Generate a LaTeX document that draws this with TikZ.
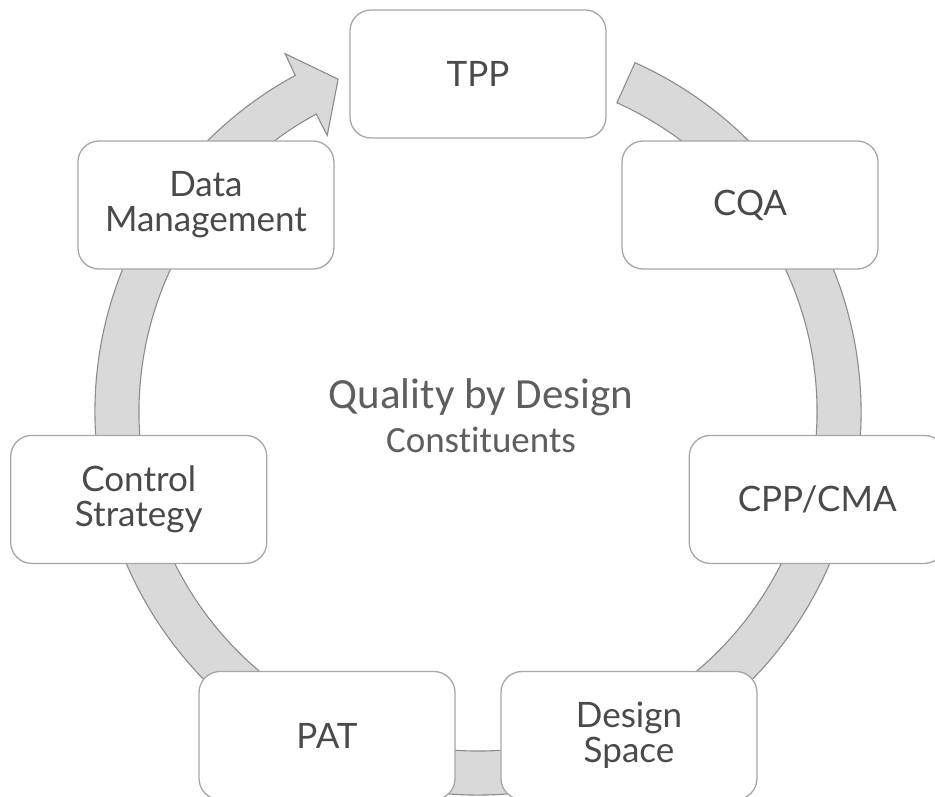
\documentclass[tikz,border=0pt]{standalone}
\usepackage{fontspec}
\usetikzlibrary{calc}
\newfontfamily\boxfont{Lato}
\newfontfamily\centfont[Ligatures=NoCommon]{Carlito}
\definecolor{ringfill}{HTML}{D9D9D9}
\definecolor{ringline}{HTML}{8C8C8C}
\definecolor{boxline}{HTML}{A6A6A6}
\definecolor{boxtext}{HTML}{4A4A4A}
\definecolor{centtext}{HTML}{5E5E5E}
\begin{document}
\begin{tikzpicture}[x=1pt,y=1pt,
  stepbox/.style={draw=boxline, line width=1.3pt, fill=white, rounded corners=21pt,
    minimum width=256pt, minimum height=128pt, inner sep=0pt, align=center,
    text=boxtext, font=\boxfont\fontsize{35}{35}\selectfont},
  ring/.style={fill=ringfill, draw=ringline, line width=1.1pt, line join=miter}]
\useasboundingbox (0,0) rectangle (935,797);
\coordinate (c) at (478,375);
\coordinate (rc) at (478,385);
% circular arrow
\draw[ring] ($(rc)+(65.8:383)$) arc[start angle=65.8, end angle=-241.5, radius=383]
  -- ($(rc)+(118.3:407)$) -- ($(rc)+(112.8:361)$) -- ($(rc)+(118.6:315)$)
  -- ($(rc)+(118.5:339)$) arc[start angle=-241.5, end angle=65.8, radius=339] -- cycle;
% boxes
\node[stepbox] (tpp) at ($(c)+(90:348)$) {TPP};
\node[stepbox] (cqa) at ($(c)+(38.571:348)$) {CQA};
\node[stepbox] (cpp) at ($(c)+(-12.857:348)$) {CPP/CMA};
\node[stepbox] (ds)  at ($(c)+(-64.286:348)$) {Design\\Space};
\node[stepbox] (pat) at ($(c)+(-115.714:348)$) {PAT};
\node[stepbox] (cs)  at ($(c)+(-167.143:348)$) {Control\\Strategy};
\node[stepbox] (dm)  at ($(c)+(141.429:348)$) {Data\\Management};
% centre title
\node[align=center, text=centtext, inner sep=0pt,
  font=\centfont\fontsize{37}{44}\selectfont] (title) at (481,381)
  {{\fontsize{43}{44}\selectfont Quality by Design}\\Constituents};
\end{tikzpicture}
\end{document}
